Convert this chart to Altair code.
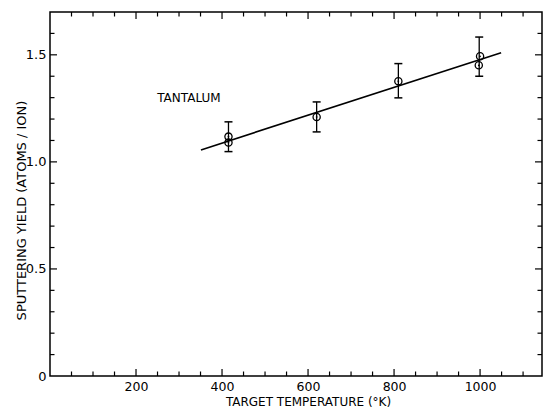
import altair as alt
import pandas as pd

# ---- data ----
pt_temp = [415, 415, 620, 810, 997, 1000]
pt_yield = [1.118, 1.090, 1.21, 1.377, 1.451, 1.493]

err_temp = [415, 620, 810, 998]
err_low = [1.048, 1.14, 1.299, 1.40]
err_high = [1.187, 1.28, 1.459, 1.583]

fit_temp = [351, 1049]
fit_yield = [1.056, 1.510]

label_text = ["TANTALUM"]
label_temp = [323]
label_yield = [1.30]

x_major = [200, 400, 600, 800, 1000]
x_minor = [50, 100, 150, 250, 300, 350, 450, 500, 550, 650, 700, 750, 850, 900, 950, 1050, 1100]
y_labels = [0, 0.5, 1.0, 1.5]
y_major = [0.5, 1.0, 1.5]
y_minor = [0.1, 0.2, 0.3, 0.4, 0.6, 0.7, 0.8, 0.9, 1.1, 1.2, 1.3, 1.4, 1.6]

W, H = 492, 364
FONT = "DejaVu Sans"
MAJ, MIN = 7, 4.5

xs = alt.Scale(domain=[0, 1144], nice=False, zero=False)
ys = alt.Scale(domain=[0, 1.7], nice=False, zero=False)

pts = pd.DataFrame({"t": pt_temp, "y": pt_yield})
errs = pd.DataFrame({"t": err_temp, "lo": err_low, "hi": err_high})
fit = pd.DataFrame({"t": fit_temp, "y": fit_yield})
lab = pd.DataFrame({"t": label_temp, "y": label_yield, "s": label_text})

xaxis = alt.Axis(values=x_major, ticks=False, domain=False, grid=False, format="d",
                 labelPadding=4, labelFontSize=12.5, labelFont=FONT, labelColor="black",
                 title="TARGET TEMPERATURE (°K)", titleFont=FONT, titleFontSize=12,
                 titleFontWeight="normal", titleColor="black",
                 titleX=258, titleY=32, titleBaseline="bottom", titleAlign="center",
                 titleAnchor="middle")
yaxis = alt.Axis(values=y_labels, ticks=False, domain=False, grid=False,
                 labelPadding=4, labelFontSize=13, labelFont=FONT, labelColor="black",
                 labelExpr="datum.value == 0 ? '0' : format(datum.value, '.1f')",
                 title="SPUTTERING YIELD (ATOMS / ION)", titleFont=FONT, titleFontSize=13,
                 titleFontWeight="normal", titleColor="black",
                 titleX=-29, titleY=198, titleAngle=-90, titleBaseline="middle",
                 titleAlign="center", titleAnchor="middle")

base_pts = alt.Chart(pts)
circles = base_pts.mark_point(shape="circle", filled=False, size=52, color="black",
                              strokeWidth=1.3, opacity=1).encode(
    x=alt.X("t:Q", scale=xs, axis=xaxis),
    y=alt.Y("y:Q", scale=ys, axis=yaxis))
dots = base_pts.mark_point(shape="circle", filled=True, size=3, color="black",
                           opacity=1).encode(x=alt.X("t:Q", scale=xs), y=alt.Y("y:Q", scale=ys))

ebar = alt.Chart(errs).mark_rule(color="black", strokeWidth=1.3).encode(
    x=alt.X("t:Q", scale=xs), y=alt.Y("lo:Q", scale=ys), y2="hi:Q")
cap_lo = alt.Chart(errs).mark_tick(orient="horizontal", size=8, thickness=1.5,
                                   color="black", opacity=1).encode(
    x=alt.X("t:Q", scale=xs), y=alt.Y("lo:Q", scale=ys))
cap_hi = alt.Chart(errs).mark_tick(orient="horizontal", size=8, thickness=1.5,
                                   color="black", opacity=1).encode(
    x=alt.X("t:Q", scale=xs), y=alt.Y("hi:Q", scale=ys))

line = alt.Chart(fit).mark_line(color="black", strokeWidth=1.6).encode(
    x=alt.X("t:Q", scale=xs), y=alt.Y("y:Q", scale=ys))

text = alt.Chart(lab).mark_text(font=FONT, fontSize=12, color="black", align="center",
                                baseline="middle").encode(
    x=alt.X("t:Q", scale=xs), y=alt.Y("y:Q", scale=ys), text="s:N")


def xticks(vals, length):
    df = pd.DataFrame({"v": vals})
    bot = alt.Chart(df).mark_rule(color="black", strokeWidth=1.2).encode(
        x=alt.X("v:Q", scale=xs), y=alt.value(H), y2=alt.value(H - length))
    top = alt.Chart(df).mark_rule(color="black", strokeWidth=1.2).encode(
        x=alt.X("v:Q", scale=xs), y=alt.value(0), y2=alt.value(length))
    return bot + top


def yticks(vals, length):
    df = pd.DataFrame({"v": vals})
    left = alt.Chart(df).mark_rule(color="black", strokeWidth=1.2).encode(
        y=alt.Y("v:Q", scale=ys), x=alt.value(0), x2=alt.value(length))
    right = alt.Chart(df).mark_rule(color="black", strokeWidth=1.2).encode(
        y=alt.Y("v:Q", scale=ys), x=alt.value(W), x2=alt.value(W - length))
    return left + right


chart = alt.layer(
    circles, xticks(x_major, MAJ), xticks(x_minor, MIN), yticks(y_major, MAJ),
    yticks(y_minor, MIN), ebar, cap_lo, cap_hi, line, dots, text
).properties(
    width=W, height=H,
    autosize=alt.AutoSizeParams(type="none"),
    padding={"left": 50, "top": 12, "right": 2, "bottom": 32},
    background="white",
).configure_view(stroke="black", strokeWidth=1.5)

chart.save("out.html", embed_options={"renderer": "svg", "actions": False})
